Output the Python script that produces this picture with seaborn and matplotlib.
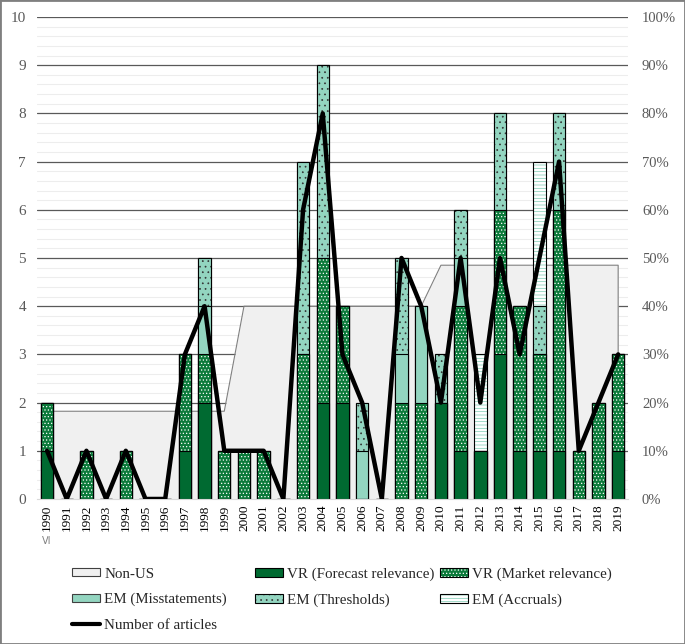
import numpy as np
import matplotlib
matplotlib.use("Agg")
import matplotlib.pyplot as plt
from matplotlib.patches import Patch, Rectangle
from matplotlib.lines import Line2D
from matplotlib.ticker import PercentFormatter
import seaborn as sns

# ---- data ----
years = [1990, 1991, 1992, 1993, 1994, 1995, 1996, 1997, 1998, 1999,
         2000, 2001, 2002, 2003, 2004, 2005, 2006, 2007, 2008, 2009,
         2010, 2011, 2012, 2013, 2014, 2015, 2016, 2017, 2018, 2019]
vr_forecast = [1, 0, 0, 0, 0, 0, 0, 1, 2, 0, 0, 0, 0, 0, 2, 2, 0, 0, 0, 0, 2, 1, 1, 3, 1, 1, 1, 0, 0, 1]
vr_market = [1, 0, 1, 0, 1, 0, 0, 2, 1, 1, 1, 1, 0, 3, 3, 2, 0, 0, 2, 2, 0, 3, 0, 3, 3, 2, 5, 1, 2, 2]
em_misstatements = [0, 0, 0, 0, 0, 0, 0, 0, 1, 0, 0, 0, 0, 0, 0, 0, 1, 0, 1, 2, 0, 1, 0, 0, 0, 0, 0, 0, 0, 0]
em_thresholds = [0, 0, 0, 0, 0, 0, 0, 0, 1, 0, 0, 0, 0, 4, 4, 0, 1, 0, 2, 0, 1, 1, 0, 2, 0, 1, 2, 0, 0, 0]
em_accruals = [0, 0, 0, 0, 0, 0, 0, 0, 0, 0, 0, 0, 0, 0, 0, 0, 0, 0, 0, 0, 0, 0, 2, 0, 0, 3, 0, 0, 0, 0]
articles = [1, 0, 1, 0, 1, 0, 0, 3, 4, 1, 1, 1, 0, 6, 8, 3, 2, 0, 5, 4, 2, 5, 2, 5, 3, 5, 7, 1, 2, 3]
non_us = [0.182, 0.182, 0.182, 0.182, 0.182, 0.182, 0.182, 0.182, 0.182, 0.182,
          0.40, 0.40, 0.40, 0.40, 0.40, 0.40, 0.40, 0.40, 0.40, 0.40,
          0.485, 0.485, 0.485, 0.485, 0.485, 0.485, 0.485, 0.485, 0.485, 0.485]

DARK = "#006A31"
MID = "#0C7A3B"
TEAL = "#93D5C0"
GREY_AREA = "#F0F0F0"

sns.set_style("white")
plt.rcParams["font.family"] = ["Liberation Serif", "DejaVu Sans"]
plt.rcParams["hatch.linewidth"] = 0.5

fig = plt.figure(figsize=(6.85, 6.44), dpi=100)
ax = fig.add_axes([0.0543, 0.2252, 0.8625, 0.7484])
ax2 = ax.twinx()
ax.set_zorder(2)
ax.patch.set_visible(False)

n = len(years)
x = np.arange(n)

# gridlines + Non-US area on the secondary (percent) axis, behind the bars
for v in np.arange(0.02, 1.001, 0.02):
    if abs(v * 10 - round(v * 10)) < 1e-6:
        ax2.axhline(v, color="#595959", lw=0.9, zorder=0.5)
    else:
        ax2.axhline(v, color="#EDEDED", lw=0.8, zorder=0.4)
ax2.fill_between(x, non_us, color=GREY_AREA, lw=0, zorder=1)
ax2.plot(np.r_[x[0], x, x[-1]], np.r_[0, non_us, 0], color="#808080", lw=0.8, zorder=1.1)

# stacked bars: cumulative layers drawn from the top down
cum1 = np.array(vr_forecast)
cum2 = cum1 + np.array(vr_market)
cum3 = cum2 + np.array(em_misstatements)
cum4 = cum3 + np.array(em_thresholds)
cum5 = cum4 + np.array(em_accruals)


def layer(vals, face, hatch=None, hatch_color=None):
    if hatch:
        n0 = len(ax.patches)
        sns.barplot(x=years, y=vals, orient="x", color=face, saturation=1,
                    width=0.63, errorbar=None, ax=ax)
        for p in ax.patches[n0:]:
            p.set_facecolor(face)
            p.set_edgecolor(hatch_color)
            p.set_hatch(hatch)
            p.set_linewidth(0)
    n0 = len(ax.patches)
    sns.barplot(x=years, y=vals, orient="x", color=face, saturation=1,
                width=0.63, errorbar=None, ax=ax)
    for p in ax.patches[n0:]:
        if hatch:
            p.set_facecolor("none")
        else:
            p.set_facecolor(face)
        p.set_edgecolor("black")
        p.set_linewidth(0.8)


layer(cum5, "white", "-----", "#7CCBB2")
layer(cum4, TEAL, "...", "#333333")
layer(cum3, TEAL)
layer(cum2, MID, ".....", "white")
layer(cum1, DARK)

sns.lineplot(x=x, y=articles, ax=ax, color="black", lw=3.2, legend=False, zorder=5)

# axes cosmetics
ax.set_xlabel("")
ax.set_ylabel("")
ax.set_ylim(0, 10)
ax2.set_ylim(0, 1)
ax.set_xlim(-0.5, n - 0.5)
ax.set_yticks(range(11))
ax.tick_params(axis="y", length=0, labelsize=11, labelcolor="#595959", pad=8)
ax.set_xticks(x)
ax.set_xticklabels([str(y) for y in years], rotation=90, fontsize=9.5, color="black")
ax.set_xticks(np.arange(-0.5, n, 1), minor=True)
ax.tick_params(axis="x", which="major", length=0, pad=4)
ax.tick_params(axis="x", which="minor", length=4, color="#BFBFBF", width=0.8)
ax2.set_yticks(np.arange(0, 1.01, 0.1))
ax2.yaxis.set_major_formatter(PercentFormatter(1.0, decimals=0))
ax2.tick_params(axis="y", length=0, labelsize=10.5, labelcolor="#595959", pad=10)
for s in ["left", "right", "top"]:
    ax.spines[s].set_visible(False)
ax.spines["bottom"].set_color("#D9D9D9")
ax.spines["bottom"].set_linewidth(0.8)
for s in ax2.spines.values():
    s.set_visible(False)

fig.text(47 / 685, 1 - 541 / 644, "VI", fontsize=7, color="#808080",
         family="DejaVu Sans", ha="center", va="center")

# legend, three columns laid out like the original
outline = dict(fill=False, edgecolor="black", lw=0.8)
h_nonus = Patch(facecolor=GREY_AREA, edgecolor="#404040", lw=0.8)
h_fore = Patch(facecolor=DARK, edgecolor="black", lw=0.8)
h_mkt = (Patch(facecolor=MID, edgecolor="white", hatch=".....", lw=0), Patch(**outline))
h_mis = Patch(facecolor=TEAL, edgecolor="#404040", lw=0.8)
h_thr = (Patch(facecolor=TEAL, edgecolor="#333333", hatch="...", lw=0), Patch(**outline))
h_acc = (Patch(facecolor="white", edgecolor="#7CCBB2", hatch="-----", lw=0), Patch(**outline))
h_line = Line2D([], [], color="black", lw=3)

common = dict(frameon=False, fontsize=10.8, handlelength=1.87, handleheight=0.47,
              handletextpad=0.27, labelspacing=0.83, borderpad=0, borderaxespad=0,
              loc="upper left")
top = 1 - 567.5 / 644
fig.legend([h_nonus, h_mis, h_line], ["Non-US", "EM (Misstatements)", "Number of articles"],
           bbox_to_anchor=(72 / 685, top), **common)
fig.legend([h_fore, h_thr], ["VR (Forecast relevance)", "EM (Thresholds)"],
           bbox_to_anchor=(255 / 685, top), **common)
fig.legend([h_mkt, h_acc], ["VR (Market relevance)", "EM (Accruals)"],
           bbox_to_anchor=(440 / 685, top), **common)

fig.add_artist(Rectangle((0, 0), 1, 1, transform=fig.transFigure, fill=False,
                         edgecolor="#7F7F7F", lw=2))

fig.savefig("out.png", dpi=100)
